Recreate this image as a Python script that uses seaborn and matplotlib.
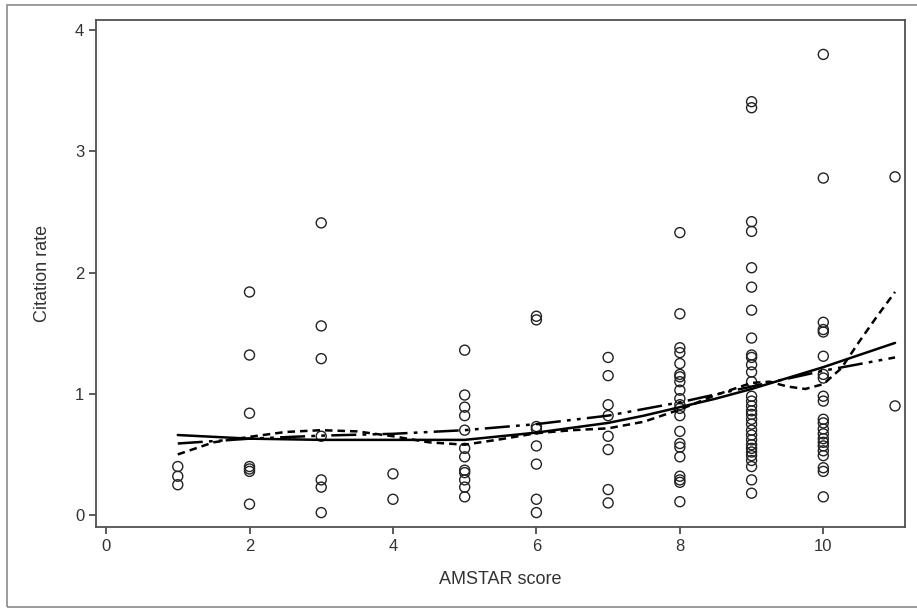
import numpy as np
import pandas as pd
import matplotlib.pyplot as plt
import seaborn as sns
from matplotlib.patches import Rectangle

# citation rates read per AMSTAR score
rates = {
    1: [0.40, 0.32, 0.25],
    2: [1.84, 1.32, 0.84, 0.40, 0.38, 0.36, 0.09],
    3: [2.41, 1.56, 1.29, 0.65, 0.29, 0.23, 0.02],
    4: [0.34, 0.13],
    5: [1.36, 0.99, 0.89, 0.82, 0.70, 0.55, 0.48, 0.37, 0.35, 0.29, 0.23, 0.15],
    6: [1.64, 1.61, 0.73, 0.71, 0.57, 0.42, 0.13, 0.02],
    7: [1.30, 1.15, 0.91, 0.82, 0.65, 0.54, 0.21, 0.10],
    8: [2.33, 1.66, 1.38, 1.34, 1.25, 1.16, 1.14, 1.10, 1.03, 0.96, 0.91,
        0.88, 0.82, 0.69, 0.59, 0.56, 0.48, 0.32, 0.29, 0.27, 0.11],
    9: [3.41, 3.36, 2.42, 2.34, 2.04, 1.88, 1.69, 1.46, 1.32, 1.30, 1.24,
        1.18, 1.10, 0.98, 0.94, 0.90, 0.86, 0.83, 0.79, 0.75, 0.70, 0.66,
        0.62, 0.58, 0.55, 0.52, 0.49, 0.45, 0.40, 0.29, 0.18],
    10: [3.80, 2.78, 1.59, 1.53, 1.51, 1.31, 1.16, 1.13, 0.98, 0.94, 0.79,
         0.76, 0.71, 0.67, 0.63, 0.60, 0.57, 0.53, 0.49, 0.39, 0.36, 0.15],
    11: [2.79, 0.90],
}

# fitted curves
quad_x = [1, 1.5, 2, 2.5, 3, 4, 5, 6, 6.5, 7, 7.5, 8, 8.5, 9, 9.5, 10, 10.5, 11]
quad_y = [0.66, 0.645, 0.63, 0.625, 0.62, 0.62, 0.62, 0.68, 0.72, 0.76, 0.82,
          0.89, 0.96, 1.04, 1.13, 1.22, 1.32, 1.42]

frac_x = [1, 2, 3, 4, 5, 6, 7, 8, 9, 10, 11]
frac_y = [0.59, 0.63, 0.655, 0.67, 0.70, 0.75, 0.82, 0.93, 1.06, 1.19, 1.30]

loess_x = [1, 1.5, 2, 2.5, 3, 3.5, 4, 4.5, 5, 5.5, 6, 6.5, 7, 7.5, 8, 8.5,
           9, 9.25, 9.5, 9.75, 10, 10.25, 10.5, 10.75, 11]
loess_y = [0.50, 0.60, 0.645, 0.685, 0.70, 0.69, 0.65, 0.60, 0.58, 0.625,
           0.675, 0.70, 0.715, 0.77, 0.87, 0.99, 1.09, 1.10, 1.06, 1.04,
           1.08, 1.21, 1.43, 1.64, 1.84]

df = pd.DataFrame(
    [(k, v) for k, vals in rates.items() for v in vals],
    columns=['AMSTAR score', 'Citation rate'],
)

sns.set_style('ticks')
plt.rcParams['font.family'] = ['Liberation Sans', 'DejaVu Sans']

fig = plt.figure(figsize=(9.17, 6.09), dpi=100)
ax = fig.add_axes([0.1047, 0.1346, 0.8823, 0.8326])

sns.scatterplot(data=df, x='AMSTAR score', y='Citation rate', ax=ax,
                marker='o', s=52, facecolor='none', edgecolor='#222222',
                linewidth=1.0, zorder=2)

sns.lineplot(x=quad_x, y=quad_y, ax=ax, color='black', lw=1.8, zorder=3)
sns.lineplot(x=frac_x, y=frac_y, ax=ax, color='black', lw=1.8, zorder=3,
             dashes=False).lines[-1].set_dashes([10, 2.5, 1.5, 2.5, 1.5, 2.5])
sns.lineplot(x=loess_x, y=loess_y, ax=ax, color='black', lw=1.8, zorder=3,
             dashes=False).lines[-1].set_dashes([3, 2])

ax.set_xlim(-0.14, 11.14)
ax.set_ylim(-0.099, 4.084)
ax.set_xticks([0, 2, 4, 6, 8, 10])
ax.set_yticks([0, 1, 2, 3, 4])
ax.tick_params(length=5, width=1.2, colors='#404040', labelsize=12,
               labelcolor='#333333')
for s in ax.spines.values():
    s.set_visible(True)
    s.set_linewidth(1.3)
    s.set_color('#505050')
ax.set_xlabel('AMSTAR score', fontsize=13, color='#333333', labelpad=12)
ax.set_ylabel('Citation rate', fontsize=13, color='#333333', labelpad=17)

# outer frame
fig.patches.append(Rectangle((7 / 917, 2 / 609), 1.0, 602 / 609,
                             transform=fig.transFigure, fill=False,
                             edgecolor='#8a8a8a', lw=1.2))

fig.savefig('out.png', dpi=100)
